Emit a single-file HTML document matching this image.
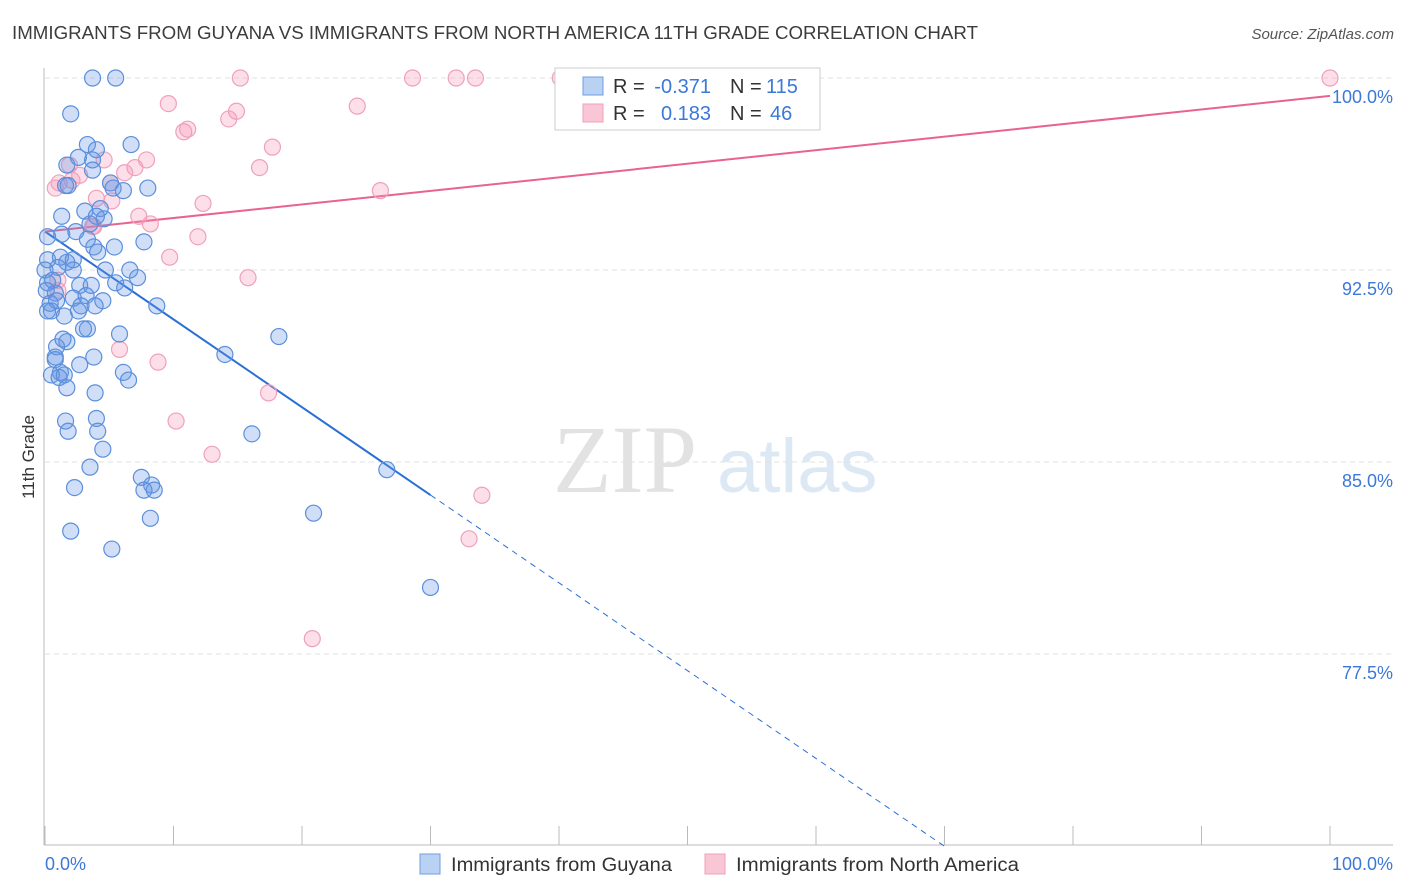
<!DOCTYPE html>
<html><head><meta charset="utf-8"><style>
body{margin:0;background:#fff;font-family:"Liberation Sans",sans-serif;}
svg{display:block}
</style></head><body>
<svg id="chart" width="1406" height="892">
<text x="12" y="39" font-size="18" fill="#3c3c3c" textLength="966" lengthAdjust="spacingAndGlyphs">IMMIGRANTS FROM GUYANA VS IMMIGRANTS FROM NORTH AMERICA 11TH GRADE CORRELATION CHART</text>
<text x="1394" y="39" font-size="15" fill="#555" font-style="italic" text-anchor="end">Source: ZipAtlas.com</text>
<text transform="translate(34,457) rotate(-90)" font-size="17" fill="#333" text-anchor="middle">11th Grade</text>
<g>
<text x="553" y="492" font-size="96" fill="#e2e2e2" font-family="Liberation Serif,serif">ZIP</text>
<text x="717" y="492" font-size="76" fill="#dde8f5">atlas</text>
</g>
<g id="grid"></g><g id="axes"></g><g id="trend"></g><g id="pts"></g>
<g>
<rect x="555" y="68" width="265" height="62" fill="#fff" stroke="#ccc"/>
<rect x="583" y="77" width="20" height="18" fill="#b9d2f3" stroke="#6e9de0"/>
<rect x="583" y="104" width="20" height="18" fill="#f9c6d6" stroke="#eea0bb"/>
<g font-size="20" fill="#333">
<text x="613" y="93">R =</text><text x="711" y="93" text-anchor="end" fill="#3b78d8">-0.371</text>
<text x="730" y="93">N =</text><text x="766" y="93" fill="#3b78d8">115</text>
<text x="613" y="120">R =</text><text x="711" y="120" text-anchor="end" fill="#3b78d8">0.183</text>
<text x="730" y="120">N =</text><text x="770" y="120" fill="#3b78d8">46</text>
</g>
</g>
<g>
<rect x="420" y="854" width="20" height="20" fill="#b9d2f3" stroke="#6e9de0"/>
<text x="451" y="871" font-size="19" fill="#333" textLength="221" lengthAdjust="spacingAndGlyphs">Immigrants from Guyana</text>
<rect x="705" y="854" width="20" height="20" fill="#f9c6d6" stroke="#eea0bb"/>
<text x="736" y="871" font-size="19" fill="#333" textLength="283" lengthAdjust="spacingAndGlyphs">Immigrants from North America</text>
</g>
</svg>
<script>
const yTicks=[100,92.5,85,77.5];
const yTickLabels=["100.0%","92.5%","85.0%","77.5%"];
const xTickLabels=["0.0%","100.0%"];
const blueX=[3.7,5.5,2.0,3.3,6.7,4.0,2.6,3.7,1.7,3.7,1.8,1.6,5.1,5.3,6.1,8.0,1.3,3.1,4.3,4.0,4.6,3.5,0.2,1.3,2.4,3.3,3.8,5.4,7.7,4.1,0.2,1.2,1.7,2.2,1.0,2.2,4.7,6.6,7.2,5.5,0.2,2.7,3.6,0.8,2.2,3.2,4.5,6.2,8.7,0.4,0.5,2.8,3.9,2.6,1.5,3.3,3.0,5.8,1.7,0.9,1.4,0.8,3.8,2.7,1.2,0.5,1.1,1.7,6.1,6.5,3.9,14.0,18.2,1.6,4.0,1.8,4.1,4.5,3.5,2.3,7.5,8.3,8.5,7.7,16.1,26.6,2.0,8.2,20.9,5.2,30.0,0,0.1,0.6,1.5,0.9,0.2,0.8];
const blueY=[100,100,98.6,97.4,97.4,97.2,96.9,96.8,96.6,96.4,95.8,95.8,95.9,95.7,95.6,95.7,94.6,94.8,94.9,94.6,94.5,94.3,93.8,93.9,94.0,93.7,93.4,93.4,93.6,93.2,92.9,93.0,92.8,92.9,92.6,92.5,92.5,92.5,92.2,92.0,92.0,91.9,91.9,91.6,91.4,91.5,91.3,91.8,91.1,91.2,90.9,91.1,91.1,90.9,90.7,90.2,90.2,90.0,89.7,89.5,89.8,89.1,89.1,88.8,88.5,88.4,88.3,87.9,88.5,88.2,87.7,89.2,89.9,86.6,86.7,86.2,86.2,85.5,84.8,84.0,84.4,84.1,83.9,83.9,86.1,84.7,82.3,82.8,83.0,81.6,80.1,92.5,91.7,92.1,88.4,91.3,90.9,89.0];
const pinkX=[9.6,15.2,28.6,32.0,33.5,40.1,100,14.9,24.3,14.3,10.8,11.1,17.7,7.9,4.6,7.0,1.9,2.7,1.1,0.8,16.7,6.2,26.1,4.0,5.2,12.3,7.3,8.2,11.9,3.8,9.7,15.8,1.0,1.0,5.8,8.8,17.4,10.2,13.0,34.0,33.0,20.8,5.1,47.1,3.7,2.1];
const pinkY=[99.0,100,100,100,100,100,100,98.7,98.9,98.4,97.9,98.0,97.3,96.8,96.8,96.5,96.6,96.2,95.9,95.7,96.5,96.3,95.6,95.3,95.2,95.1,94.6,94.3,93.8,94.2,93.0,92.2,92.1,91.7,89.4,88.9,87.7,86.6,85.3,83.7,82.0,78.1,95.9,100,94.2,96.0];
const blueTrend=[94.0,-0.343];
const pinkTrend=[94.0,0.053];
const sx=v=>45+v*12.85, sy=v=>78+(100-v)*25.6;
const NS="http://www.w3.org/2000/svg";
function mk(tag,attrs,parent){const e=document.createElementNS(NS,tag);for(const k in attrs)e.setAttribute(k,attrs[k]);document.getElementById(parent).appendChild(e);return e;}
yTicks.forEach((t,i)=>{
 const g=mk('line',{x1:45,x2:1393,y1:sy(t),y2:sy(t),stroke:'#e2e2e2','stroke-dasharray':'5,4'},'grid');
 
 
 const l=mk('text',{x:1393,y:sy(t)+25,'font-size':18,fill:'#3b78d8','text-anchor':'end'},'grid');
 l.textContent=yTickLabels[i];
 
 
});
const ax=mk('line',{x1:44,x2:44,y1:68,y2:845,stroke:'#bbb'},'axes');


const bx=mk('line',{x1:44,x2:1393,y1:845,y2:845,stroke:'#bbb'},'axes');


for(let i=0;i<=10;i++){const t=mk('line',{x1:sx(i*10),x2:sx(i*10),y1:826,y2:845,stroke:'#bbb'},'axes');
 
 }
[[0,'start',45],[100,'end',1393]].forEach((d,i)=>{const t=mk('text',{x:d[2],y:870,'font-size':18,fill:'#3b78d8','text-anchor':d[1]},'axes');t.textContent=xTickLabels[i];
 
 });
function addPts(X,Y,fill,stroke,name){X.forEach((x,i)=>{const c=mk('circle',{cx:sx(x),cy:sy(Y[i]),r:8,fill:fill,stroke:stroke,'stroke-width':1.2},'pts');
 
 });}
addPts(pinkX,pinkY,'rgba(244,150,180,0.3)','#f0a0bc','point-north-america');
addPts(blueX,blueY,'rgba(100,150,230,0.3)','#5b8fdc','point-guyana');
const bEnd=30, bZero=(70-blueTrend[0])/blueTrend[1];
const b1=mk('line',{x1:sx(0),y1:sy(blueTrend[0]),x2:sx(bEnd),y2:sy(blueTrend[0]+blueTrend[1]*bEnd),stroke:'#2a6fd6','stroke-width':2},'trend');


const b2=mk('line',{x1:sx(bEnd),y1:sy(blueTrend[0]+blueTrend[1]*bEnd),x2:sx(bZero),y2:sy(70),stroke:'#2a6fd6','stroke-width':1,'stroke-dasharray':'6,5'},'trend');


const p1=mk('line',{x1:sx(0),y1:sy(pinkTrend[0]),x2:sx(100),y2:sy(pinkTrend[0]+pinkTrend[1]*100),stroke:'#e8638f','stroke-width':2},'trend');


</script>
</body></html>
